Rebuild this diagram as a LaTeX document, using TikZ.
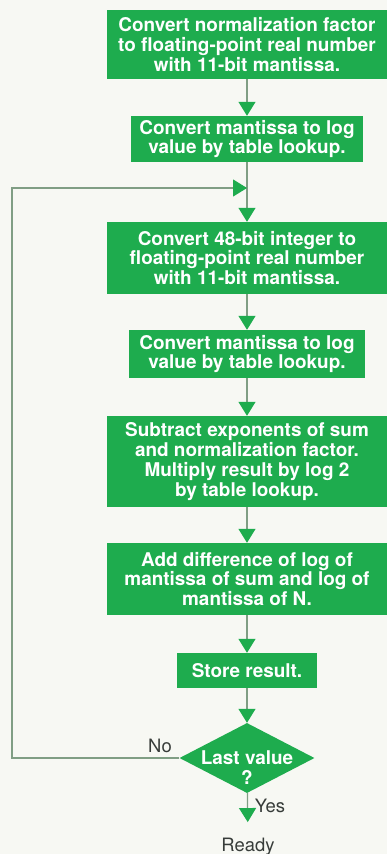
\documentclass[tikz,border=0pt]{standalone}
\usepackage{fontspec}
\setmainfont{TeX Gyre Heros}
\usepackage{tikz}
\usetikzlibrary{shapes.geometric,arrows.meta}
\definecolor{flowgreen}{RGB}{30,172,78}
\definecolor{linegray}{RGB}{128,158,132}
\definecolor{papercolor}{RGB}{247,248,243}
\definecolor{labelgray}{RGB}{55,60,57}

\begin{document}
\begin{tikzpicture}[x=1bp,y=-1bp,
    stepbox/.style={fill=flowgreen,text=white,align=center,inner sep=0pt,
        font=\bfseries\fontsize{19}{20}\selectfont},
    decision/.style={diamond,fill=flowgreen,inner sep=0pt,
        minimum width=135bp,minimum height=70bp},
    flow/.style={linegray,line width=1.2bp,
        -{Triangle[length=14bp,width=17bp,color=flowgreen]}},
    answer/.style={labelgray,font=\fontsize{18.5}{20}\selectfont}]
    \useasboundingbox (0,0) rectangle (387,854);
    \fill[papercolor] (0,0) rectangle (387,854);

    % Normalization factor
    \node[stepbox,minimum width=280bp,minimum height=69bp] (norm) at (247,44.5)
        {Convert normalization factor\\to floating-point real number\\with 11-bit mantissa.};
    \node[stepbox,minimum width=232bp,minimum height=46bp] (normlog) at (247,139)
        {Convert mantissa to log\\value by table lookup.};

    % Loop over the values
    \node[stepbox,minimum width=280bp,minimum height=72bp] (conv) at (247,258)
        {Convert 48-bit integer to\\floating-point real number\\with 11-bit mantissa.};
    \node[stepbox,minimum width=236bp,minimum height=48bp] (convlog) at (247,354)
        {Convert mantissa to log\\value by table lookup.};
    \node[stepbox,minimum width=280bp,minimum height=91bp] (expo) at (247,461.5)
        {Subtract exponents of sum\\and normalization factor.\\Multiply result by log 2\\by table lookup.};
    \node[stepbox,minimum width=280bp,minimum height=72bp] (diff) at (247,579)
        {Add difference of log of\\mantissa of sum and log of\\mantissa of N.};
    \node[stepbox,minimum width=140bp,minimum height=35bp] (store) at (247,670.5)
        {Store result.};
    \node[decision] (last) at (247,758) {};
    \node[stepbox,fill=none] at ([yshift=-10bp]last.center) {Last value\\?};

    \node[answer,anchor=base] (no) at (160,752) {No};
    \node[answer,anchor=base] (yes) at (270,812) {Yes};
    \node[answer,anchor=base] (ready) at (248,851) {Ready};

    \coordinate (join) at (247,188);
    \coordinate (loopx) at (12,758);

    % Connectors
    \draw[flow] (norm) -- (normlog);
    \draw[linegray,line width=1.2bp] (normlog) -- (join);
    \draw[flow] (join) -- (conv);
    \draw[flow] (conv) -- (convlog);
    \draw[flow] (convlog) -- (expo);
    \draw[flow] (expo) -- (diff);
    \draw[flow] (diff) -- (store);
    \draw[flow] (store) -- (last);
    \draw[flow,shorten >=12bp] (last) -- (ready);
    \draw[flow] (last.west) -- (loopx) |- (join);
\end{tikzpicture}
\end{document}
